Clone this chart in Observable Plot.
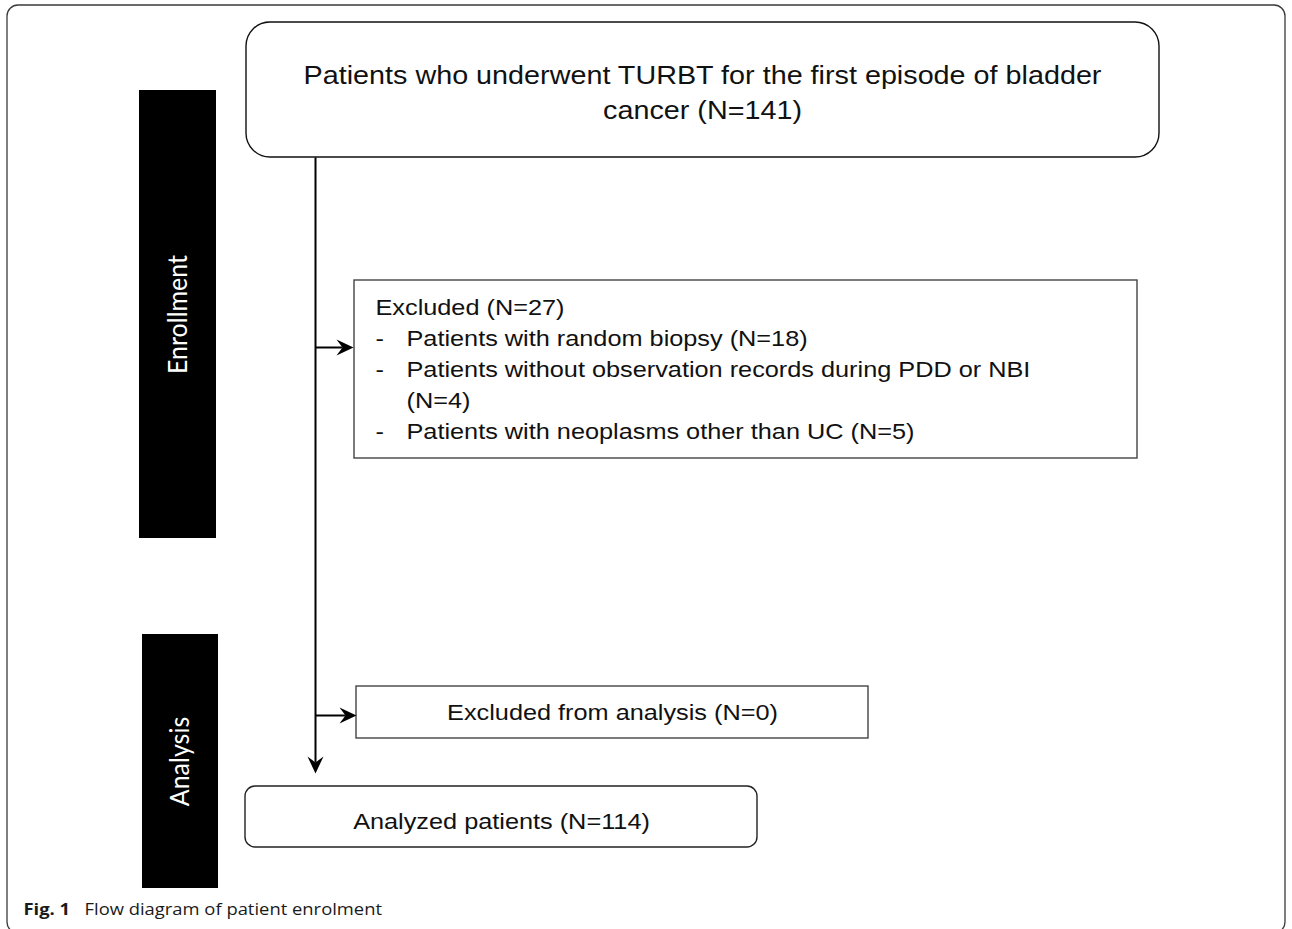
<!DOCTYPE html>
<html>
<head>
<meta charset="utf-8">
<script src="https://cdn.jsdelivr.net/npm/d3@7"></script>
<script src="https://cdn.jsdelivr.net/npm/@observablehq/plot@0.6"></script>
<style>
  html, body { margin: 0; padding: 0; background: #fff; }
  #chart svg { display: block; }
</style>
</head>
<body>
<div id="chart"></div>
<script>
// ---- Text content ----
const topBoxLines = ["Patients who underwent TURBT for the first episode of bladder", "cancer (N=141)"];
const excludedTitle = "Excluded (N=27)";
const excludedItems = [
  ["Patients with random biopsy (N=18)"],
  ["Patients without observation records during PDD or NBI", "(N=4)"],
  ["Patients with neoplasms other than UC (N=5)"]
];
const excludedAnalysis = "Excluded from analysis (N=0)";
const analyzed = "Analyzed patients (N=114)";
const stageLabels = ["Enrollment", "Analysis"];
const captionBold = "Fig. 1";
const captionText = "Flow diagram of patient enrolment";

// ---- Layout (diagram geometry in page units) ----
const W = 1292, H = 929;
const frame = [{x1: 7, x2: 1285, y1: 5, y2: 933}];
const stageBars = [
  {label: stageLabels[0], x1: 139, x2: 216, y1: 90, y2: 538},
  {label: stageLabels[1], x1: 142, x2: 218, y1: 634, y2: 888}
];
const topBox = [{x1: 246, x2: 1159, y1: 22, y2: 157}];
const exclBox = [{x1: 354, x2: 1137, y1: 280, y2: 458}];
const exclAnaBox = [{x1: 356, x2: 868, y1: 686, y2: 738}];
const analyzedBox = [{x1: 245, x2: 757, y1: 786, y2: 847}];
const spineX = 315;
const connectors = [
  {x1: spineX, y1: 157, x2: spineX, y2: 762},
  {x1: spineX, y1: 347, x2: 342, y2: 347},
  {x1: spineX, y1: 715, x2: 345, y2: 715}
];
const headsRight = [{x: 353, y: 347}, {x: 356, y: 715}];
const headsDown = [{x: spineX, y: 773}];

// text rows
const topRows = topBoxLines.map((t, i) => ({text: t, x: 702, y: 83 + i * 35}));
const exclRows = [{text: excludedTitle, x: 375, y: 314}];
let row = 1;
const dashRows = [];
for (const item of excludedItems) {
  dashRows.push({text: "-", x: 375, y: 314 + row * 31});
  item.forEach(line => { exclRows.push({text: line, x: 406, y: 314 + row * 31}); row++; });
}
const centerRows = [
  {text: excludedAnalysis, x: 612, y: 719},
  {text: analyzed, x: 501, y: 828}
];
const captionBoldRows = [{t: captionBold, x: 23, y: 914}];
const captionRows = [{t: captionText, x: 84, y: 914}];

// arrowhead symbols (tip at origin)
const arrowRight = {draw(ctx) { ctx.moveTo(0, 0); ctx.lineTo(-17, -8); ctx.lineTo(-11, 0); ctx.lineTo(-17, 8); ctx.closePath(); }};
const arrowDown = {draw(ctx) { ctx.moveTo(0, 0); ctx.lineTo(-8, -17); ctx.lineTo(0, -11); ctx.lineTo(8, -17); ctx.closePath(); }};

const sans = "'Liberation Sans', Arial, sans-serif";
const cap = "'Open Sans', sans-serif";

const chart = Plot.plot({
  width: W, height: H, margin: 0,
  x: {domain: [0, W], range: [0, W], axis: null},
  y: {domain: [0, H], range: [0, H], axis: null},
  style: {background: "#fff"},
  marks: [
    Plot.rect(frame, {x1: "x1", x2: "x2", y1: "y1", y2: "y2", rx: 11, fill: "none", stroke: "#3a3a3a", strokeWidth: 1.3}),
    Plot.rect(stageBars, {x1: "x1", x2: "x2", y1: "y1", y2: "y2", fill: "black"}),
    Plot.text(stageBars, {x: d => (d.x1 + d.x2) / 2, y: d => (d.y1 + d.y2) / 2, text: "label", rotate: -90, fill: "white", fontSize: 25, fontFamily: "Lato, 'Open Sans', sans-serif"}),
    Plot.rect(topBox, {x1: "x1", x2: "x2", y1: "y1", y2: "y2", rx: 24, fill: "white", stroke: "#111", strokeWidth: 1.4}),
    Plot.rect(exclBox, {x1: "x1", x2: "x2", y1: "y1", y2: "y2", fill: "white", stroke: "#444", strokeWidth: 1.4}),
    Plot.rect(exclAnaBox, {x1: "x1", x2: "x2", y1: "y1", y2: "y2", fill: "white", stroke: "#444", strokeWidth: 1.4}),
    Plot.rect(analyzedBox, {x1: "x1", x2: "x2", y1: "y1", y2: "y2", rx: 10, fill: "white", stroke: "#222", strokeWidth: 1.4}),
    Plot.link(connectors, {x1: "x1", y1: "y1", x2: "x2", y2: "y2", stroke: "black", strokeWidth: 2}),
    Plot.dot(headsRight, {x: "x", y: "y", symbol: arrowRight, fill: "black", stroke: "none", r: 8}),
    Plot.dot(headsDown, {x: "x", y: "y", symbol: arrowDown, fill: "black", stroke: "none", r: 8}),
    Plot.text(topRows, {x: "x", y: "y", text: "text", textAnchor: "middle", lineAnchor: "bottom", fontSize: 25, fontFamily: sans, fill: "#111"}),
    Plot.text(exclRows, {x: "x", y: "y", text: "text", textAnchor: "start", lineAnchor: "bottom", fontSize: 22, fontFamily: sans, fill: "#111"}),
    Plot.text(dashRows, {x: "x", y: "y", text: "text", textAnchor: "start", lineAnchor: "bottom", fontSize: 22, fontFamily: sans, fill: "#111"}),
    Plot.text(centerRows, {x: "x", y: "y", text: "text", textAnchor: "middle", lineAnchor: "bottom", fontSize: 22, fontFamily: sans, fill: "#111"}),
    Plot.text(captionBoldRows, {x: "x", y: "y", text: "t", textAnchor: "start", lineAnchor: "bottom", fontSize: 16, fontWeight: "bold", fontFamily: cap, fill: "#1a1a1a"}),
    Plot.text(captionRows, {x: "x", y: "y", text: "t", textAnchor: "start", lineAnchor: "bottom", fontSize: 16, fontFamily: cap, fill: "#1a1a1a"})
  ]
});

// The reference artwork is horizontally stretched (~1.15x); reproduce that on the text glyphs.
d3.select(chart).selectAll("text").each(function() {
  const t = this.getAttribute("transform") || "";
  const rotated = /rotate/.test(t);
  const extra = rotated ? "scale(1,1.1)" : "scale(1.15,1)";
  if (/translate/.test(t)) {
    this.setAttribute("transform", t + " " + extra);
  } else {
    const x = +(this.getAttribute("x") || 0), y = +(this.getAttribute("y") || 0);
    this.removeAttribute("x"); this.removeAttribute("y");
    this.setAttribute("transform", `translate(${x},${y}) ${t} ${extra}`);
  }
});

document.getElementById("chart").appendChild(chart);
</script>
</body>
</html>
